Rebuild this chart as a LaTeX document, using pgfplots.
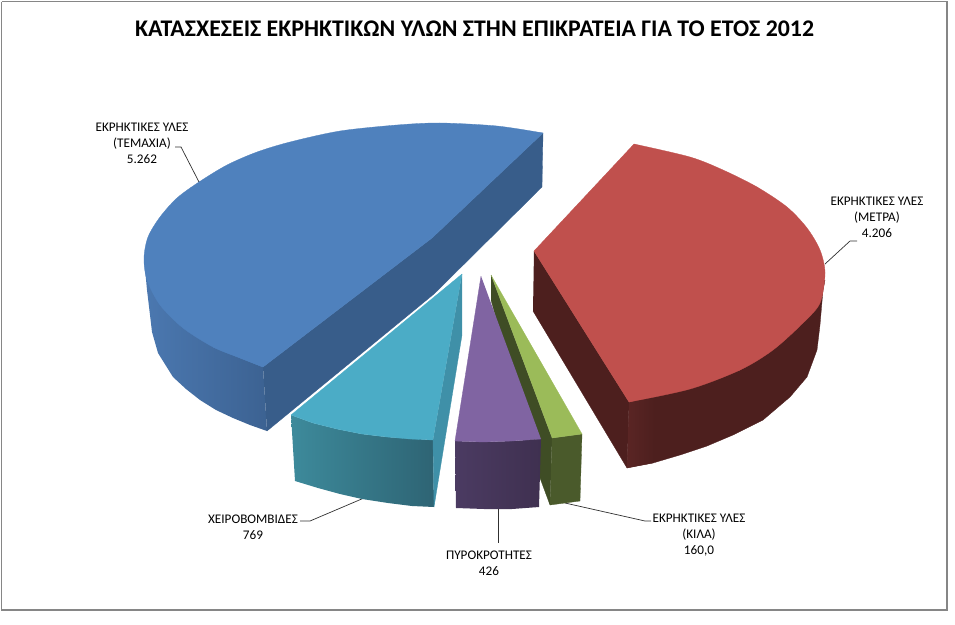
\documentclass[border=0pt]{standalone}
\usepackage{fontspec}
\setmainfont{Carlito}
\usepackage{pgfplots}
\pgfplotsset{compat=1.18}
\definecolor{blueTop}{HTML}{4F81BD}
\definecolor{blueIn}{HTML}{385D8A}
\definecolor{blueL}{HTML}{4B78B0}
\definecolor{blueR}{HTML}{3C6292}
\definecolor{redTop}{HTML}{C0504D}
\definecolor{redWall}{HTML}{4D1F1E}
\definecolor{redWallB}{HTML}{5A2524}
\definecolor{tealTop}{HTML}{4BACC6}
\definecolor{tealIn}{HTML}{3F90A8}
\definecolor{tealL}{HTML}{3D8A9B}
\definecolor{tealR}{HTML}{2E6474}
\definecolor{purpleTop}{HTML}{8064A2}
\definecolor{purpleL}{HTML}{4B3B62}
\definecolor{purpleR}{HTML}{3F3050}
\definecolor{greenTop}{HTML}{9BBB59}
\definecolor{greenIn}{HTML}{3F4D25}
\definecolor{greenWall}{HTML}{4A5A2B}
\definecolor{lead}{HTML}{303030}
% polygon in picture pixels
\newcommand{\face}[2]{\addplot[fill=#1,draw=#1,line width=0.3pt,line join=round] coordinates {#2};}
\newcommand{\arcface}[2]{\addplot[fill=#1,draw=#1,line width=0.3pt,smooth] coordinates {#2};}
\newcommand{\wall}[3]{\addplot[draw=none,left color=#1,right color=#2] coordinates {#3};}
\newcommand{\leader}[1]{\addplot[lead,line width=0.7pt] coordinates {#1};}
\newcommand{\lab}[2]{\node[align=center,font=\fontsize{13.2}{16}\selectfont,anchor=center] at (axis cs:#1) {#2};}
\begin{document}
\begin{tikzpicture}
\begin{axis}[
    scale only axis,
    width=955pt, height=624pt,
    xmin=0, xmax=955, ymin=0, ymax=624,
    y dir=reverse,
    hide axis,
    clip=false,
]
\path (axis cs:0,0) -- (axis cs:955,624);
% frame
\addplot[draw=gray!95,line width=1.4pt] coordinates {(1.5,1.5) (947,1.5) (947,610) (1.5,610) (1.5,1.5)};

% leaders first, slices sit on top
\leader{(175,147) (181,147) (199,182)}
\leader{(825,264) (850,241) (857,241)}
\leader{(300,521) (310,521) (364,498)}
\leader{(498.5,508) (498.5,543)}
\leader{(565,503) (645,521) (651,521)}

% blue slice, 5262
\wall{blueL}{blueR}{(144,258) (147,290) (150,315) (152,332) (158,353) (173,377) (186,389) (200,400) (216,410) (233,418) (250,425) (267,431) (263,367)}
\face{blueIn}{(263,367) (432,238) (543,133) (542,187) (434,294) (267,431)}
\face{blueTop}{(543,133) (432,238) (263,367) (213,347) (199,182) (440,123)}
\arcface{blueTop}{(543,133) (497,126) (440,123) (397,125) (340,131) (290,142) (257,152) (227,165) (199,182) (177,198) (160,217) (148,237) (144,258) (147,280) (160,305) (183,328) (213,347) (240,358) (263,367)}

% red slice, 4206
\face{redWall}{(534,251) (629,402) (627,468) (533,311)}
\face{redWall}{(629,402) (825,280) (823,290) (820,325) (817,350) (807,377) (790,397) (763,420) (733,435) (707,446) (680,455) (653,463) (627,468)}
\wall{redWallB}{redWall}{(629,402) (655,398) (653,463) (627,468)}
\face{redTop}{(634,144) (534,251) (629,402) (740,370) (825,273) (757,187)}
\arcface{redTop}{(634,144) (690,157) (723,170) (757,187) (787,207) (807,228) (820,250) (825,273) (820,303) (803,323) (773,350) (740,370) (690,389) (629,402)}

% teal slice, 769
\wall{tealL}{tealR}{(291,415) (313,423) (337,429) (362,434) (387,437) (433,440) (434,507) (412,506) (388,503) (362,499) (340,494) (318,488) (295,481)}
\face{tealIn}{(462,274) (433,440) (434,507) (462,335)}
\face{tealTop}{(462,274) (291,415) (313,423) (337,429) (362,434) (387,437) (410,439) (433,440)}

% green slice, 160
\face{greenIn}{(491,275) (552,438) (550,505) (540,478) (491,300)}
\face{greenWall}{(552,438) (582,434) (580,501) (550,505)}
\face{greenTop}{(491,275) (582,434) (552,438)}

% purple slice, 426
\wall{purpleL}{purpleR}{(455,441) (483,442) (512,441) (541,439) (539,507) (512,509) (484,509) (456,508)}
\face{purpleTop}{(481,276) (455,441) (483,442) (512,441) (541,439)}

% labels
\node[font=\fontsize{23.85}{28}\selectfont\bfseries] at (axis cs:474.5,29) {ΚΑΤΑΣΧΕΣΕΙΣ ΕΚΡΗΚΤΙΚΩΝ ΥΛΩΝ ΣΤΗΝ ΕΠΙΚΡΑΤΕΙΑ ΓΙΑ ΤΟ ΕΤΟΣ 2012};
\lab{142,143}{ΕΚΡΗΚΤΙΚΕΣ ΥΛΕΣ\\(ΤΕΜΑΧΙΑ)\\5.262}
\lab{877,217}{ΕΚΡΗΚΤΙΚΕΣ ΥΛΕΣ\\(ΜΕΤΡΑ)\\4.206}
\lab{253,527}{ΧΕΙΡΟΒΟΜΒΙΔΕΣ\\769}
\lab{489,563}{ΠΥΡΟΚΡΟΤΗΤΕΣ\\426}
\lab{699,535}{ΕΚΡΗΚΤΙΚΕΣ ΥΛΕΣ\\(ΚΙΛΑ)\\160,0}
\end{axis}
\end{tikzpicture}
\end{document}
